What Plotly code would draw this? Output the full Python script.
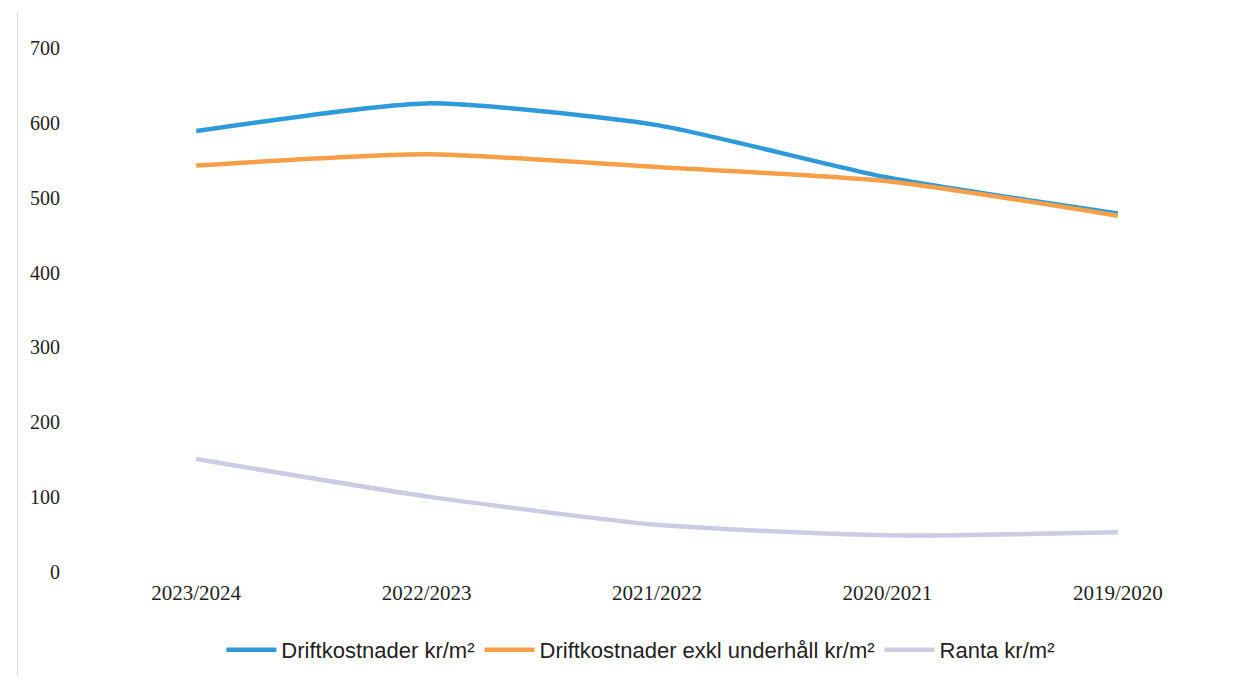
import plotly.graph_objects as go

categories = ["2023/2024", "2022/2023", "2021/2022", "2020/2021", "2019/2020"]
drift = [589, 626, 597, 527, 479]
drift_exkl = [543, 558, 541, 522, 476]
ranta = [151, 101, 63, 49, 53]
y_ticks = [0, 100, 200, 300, 400, 500, 600, 700]

fig = go.Figure()
series = [
    ("Driftkostnader kr/m²", drift, "#2E9AD9"),
    ("Driftkostnader exkl underhåll kr/m²", drift_exkl, "#F5A048"),
    ("Ranta kr/m²", ranta, "#CBCBE3"),
]
for name, vals, col in series:
    fig.add_trace(go.Scatter(
        x=categories, y=vals, name=name, mode="lines",
        line=dict(color=col, width=4.5, shape="spline", smoothing=0.6),
    ))

fig.update_layout(
    width=1249, height=681,
    paper_bgcolor="white", plot_bgcolor="white",
    margin=dict(l=81, r=16, t=48, b=109, autoexpand=False),
    showlegend=True,
    legend=dict(orientation="h", x=0.486, xanchor="center", yref="container",
                y=(681 - 650) / 681, yanchor="middle",
                font=dict(family="Liberation Sans", size=22, color="#222"),
                itemwidth=50, traceorder="normal"),
    xaxis=dict(type="category", range=[-0.5, 4.5], showgrid=False, zeroline=False,
               showline=False, ticks="", ticklabelstandoff=6,
               tickfont=dict(family="Liberation Serif", size=21, color="#222")),
    yaxis=dict(range=[0, 700], tickvals=y_ticks, showgrid=False, zeroline=False,
               showline=False, ticks="", ticklabelstandoff=20,
               tickfont=dict(family="Liberation Serif", size=20, color="#222")),
)
fig.add_shape(type="line", xref="paper", yref="paper", x0=-0.055, x1=-0.055, y0=-0.2, y1=1.07,
              line=dict(color="#d8d8d8", width=1))
fig.write_html("out.html")
